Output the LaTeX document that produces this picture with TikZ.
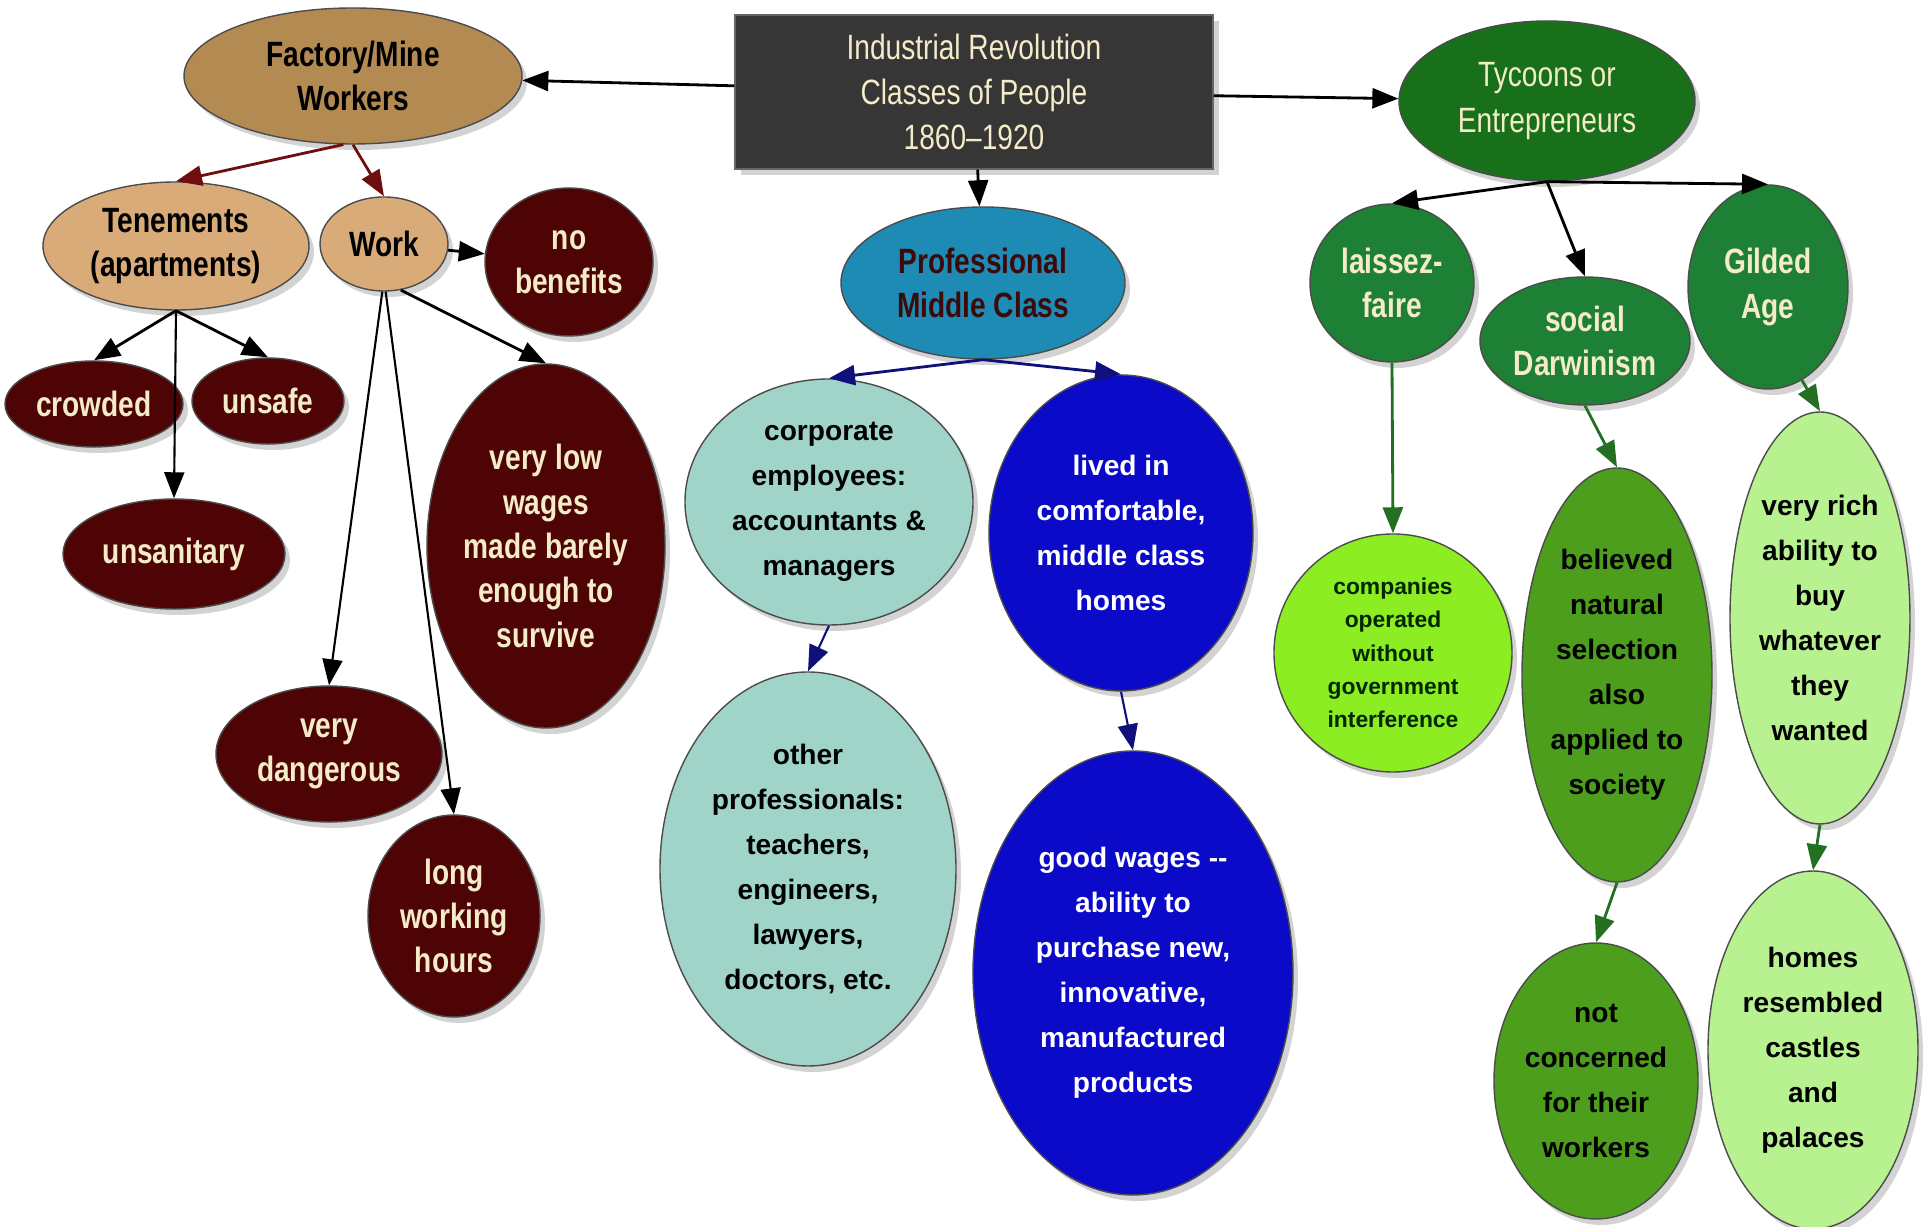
\documentclass[tikz,border=0pt]{standalone}
\usepackage{fontspec}
\setmainfont{Liberation Sans}
\newfontfamily\narrowfont[FakeStretch=0.8]{Liberation Sans}
\usetikzlibrary{shapes.geometric,shadows,arrows.meta}

\definecolor{titlegray}{HTML}{363636}
\definecolor{cream}{HTML}{F4EBC8}
\definecolor{workertan}{HTML}{B38B52}
\definecolor{lighttan}{HTML}{D9AB78}
\definecolor{darkmaroon}{HTML}{4E0404}
\definecolor{arrowmaroon}{HTML}{6E0E0E}
\definecolor{profteal}{HTML}{1E8BB4}
\definecolor{profink}{HTML}{3C0A0A}
\definecolor{mint}{HTML}{A0D4C8}
\definecolor{deepblue}{HTML}{0A0AC8}
\definecolor{arrownavy}{HTML}{10107A}
\definecolor{tycoongreen}{HTML}{18701A}
\definecolor{midgreen}{HTML}{1E8034}
\definecolor{limegreen}{HTML}{8CEE22}
\definecolor{grassgreen}{HTML}{4C9E1C}
\definecolor{palegreen}{HTML}{B8F290}
\definecolor{arrowgreen}{HTML}{237023}

\begin{document}
\begin{tikzpicture}[x=0.1mm,y=-0.1mm,>={Triangle[length=2.6mm,width=2mm]},
  bubble/.style={ellipse,draw=black!70,thin,align=center,inner sep=0pt,
    drop shadow={shadow xshift=0.5mm,shadow yshift=-0.6mm,opacity=0.35}},
  narrowbold/.style={font=\fontsize{10}{12.6}\narrowfont\bfseries},
  narrowreg/.style={font=\fontsize{10}{12.9}\narrowfont},
  widebold/.style={font=\fontsize{8}{12.8}\selectfont\bfseries},
  workerbox/.style={bubble,narrowbold,fill=workertan,text=black},
  homebox/.style={bubble,narrowbold,fill=lighttan,text=black},
  hardship/.style={bubble,narrowbold,fill=darkmaroon,text=cream},
  profbox/.style={bubble,narrowbold,fill=profteal,text=profink},
  jobbox/.style={bubble,widebold,fill=mint,text=black},
  lifebox/.style={bubble,widebold,fill=deepblue,text=white},
  tycoonbox/.style={bubble,narrowreg,fill=tycoongreen,text=cream},
  ideabox/.style={bubble,narrowbold,fill=midgreen,text=cream},
  limebox/.style={bubble,font=\fontsize{6.5}{9.5}\selectfont\bfseries,fill=limegreen,text=black!85!green},
  grassbox/.style={bubble,widebold,fill=grassgreen,text=black},
  palebox/.style={bubble,widebold,fill=palegreen,text=black}]
  \useasboundingbox (0,0) rectangle (1931,1227);
  %titolo
  \node[rectangle,draw=black!60,fill=titlegray,text=cream,narrowreg,align=center,
    minimum width=47.8mm,minimum height=15.4mm,
    drop shadow={shadow xshift=0.6mm,shadow yshift=-0.6mm,opacity=0.35}] (title) at (974,92)
    {Industrial Revolution\\Classes of People\\1860–1920};
  %operai
  \node[workerbox,minimum width=33.8mm,minimum height=13.6mm] (factory) at (353,76) {Factory/Mine\\Workers};
  \node[homebox,minimum width=26.6mm,minimum height=12.8mm] (tenem) at (176,246) {Tenements\\(apartments)};
  \node[homebox,minimum width=12.8mm,minimum height=9.4mm] (work) at (384,244) {Work};
  \node[hardship,minimum width=16.8mm,minimum height=14.8mm] (nobenefits) at (569,262) {no\\benefits};
  \node[hardship,minimum width=17.8mm,minimum height=8.6mm] (crowded) at (94,404) {crowded};
  \node[hardship,minimum width=15.2mm,minimum height=8.6mm] (unsafe) at (268,401) {unsafe};
  \node[hardship,minimum width=22.2mm,minimum height=11mm] (unsanitary) at (174,554) {unsanitary};
  \node[hardship,minimum width=23.8mm,minimum height=36.4mm] (wages) at (546,546) {very low\\wages\\made barely\\enough to\\survive};
  \node[hardship,minimum width=22.6mm,minimum height=13.6mm] (danger) at (329,754) {very\\dangerous};
  \node[hardship,minimum width=17.2mm,minimum height=20.2mm] (hours) at (454,916) {long\\working\\hours};
  %classe media
  \node[profbox,minimum width=28.4mm,minimum height=15.2mm] (prof) at (983,283) {Professional\\Middle Class};
  \node[jobbox,minimum width=28.8mm,minimum height=24.6mm] (corp) at (829,502) {corporate\\employees:\\accountants \&\\managers};
  \node[jobbox,minimum width=29.6mm,minimum height=39.4mm] (other) at (808,869) {other\\professionals:\\teachers,\\engineers,\\lawyers,\\doctors, etc.};
  \node[lifebox,minimum width=26.4mm,minimum height=31.6mm] (lived) at (1121,533) {lived in\\comfortable,\\middle class\\homes};
  \node[lifebox,minimum width=32mm,minimum height=44.4mm] (good) at (1133,973) {good wages {-}{-}\\ability to\\purchase new,\\innovative,\\manufactured\\products};
  %magnati
  \node[tycoonbox,minimum width=29.6mm,minimum height=16mm] (tycoons) at (1547,101) {Tycoons or\\Entrepreneurs};
  \node[ideabox,minimum width=16.4mm,minimum height=15.8mm] (laissez) at (1392,283) {laissez-\\faire};
  \node[ideabox,minimum width=21mm,minimum height=12.8mm] (social) at (1585,341) {social\\Darwinism};
  \node[ideabox,minimum width=16mm,minimum height=20.4mm] (gilded) at (1768,287) {Gilded\\Age};
  \node[limebox,minimum width=23.8mm,minimum height=23.8mm] (companies) at (1393,653) {companies\\operated\\without\\government\\interference};
  \node[grassbox,minimum width=19mm,minimum height=41.4mm] (believed) at (1617,675) {believed\\natural\\selection\\also\\applied to\\society};
  \node[grassbox,minimum width=20.4mm,minimum height=27.6mm] (notcare) at (1596,1081) {not\\concerned\\for their\\workers};
  \node[palebox,minimum width=18mm,minimum height=41.2mm] (rich) at (1820,618) {very rich\\ability to\\buy\\whatever\\they\\wanted};
  \node[palebox,minimum width=21mm,minimum height=35.8mm] (castles) at (1813,1050) {homes\\resembled\\castles\\and\\palaces};
  %frecce
  \draw[->,thick] (title) -- (factory);
  \draw[->,thick] (title) -- (tycoons);
  \draw[->,thick] (title) -- (prof);
  \draw[->,thick,arrowmaroon] (factory.262) -- (tenem.north);
  \draw[->,thick,arrowmaroon] (factory.south) -- (work.north);
  \draw[->,thick] (tenem.south) -- (crowded.north);
  \draw[->,thick] (tenem.south) -- (unsafe.north);
  \draw[->,semithick] (tenem.south) -- (unsanitary.north);
  \draw[->,thick] (work) -- (nobenefits);
  \draw[->,thick] (work.290) -- (wages.north);
  \draw[->,semithick] (work.268) -- (danger.north);
  \draw[->,semithick] (work.272) -- (hours.north);
  \draw[->,thick,arrownavy] (prof.south) -- (corp.north);
  \draw[->,thick,arrownavy] (prof.south) -- (lived.north);
  \draw[->,semithick,arrownavy] (corp.south) -- (other.north);
  \draw[->,semithick,arrownavy] (lived.south) -- (good.north);
  \draw[->,thick] (tycoons.south) -- (laissez.north);
  \draw[->,thick] (tycoons.south) -- (social.north);
  \draw[->,thick] (tycoons.south) -- (gilded.north);
  \draw[->,thick,arrowgreen] (laissez.south) -- (companies.north);
  \draw[->,thick,arrowgreen] (social.south) -- (believed.north);
  \draw[->,thick,arrowgreen] (gilded.-70) -- (rich.north);
  \draw[->,thick,arrowgreen] (believed.south) -- (notcare.north);
  \draw[->,thick,arrowgreen] (rich.south) -- (castles.north);
\end{tikzpicture}
\end{document}
